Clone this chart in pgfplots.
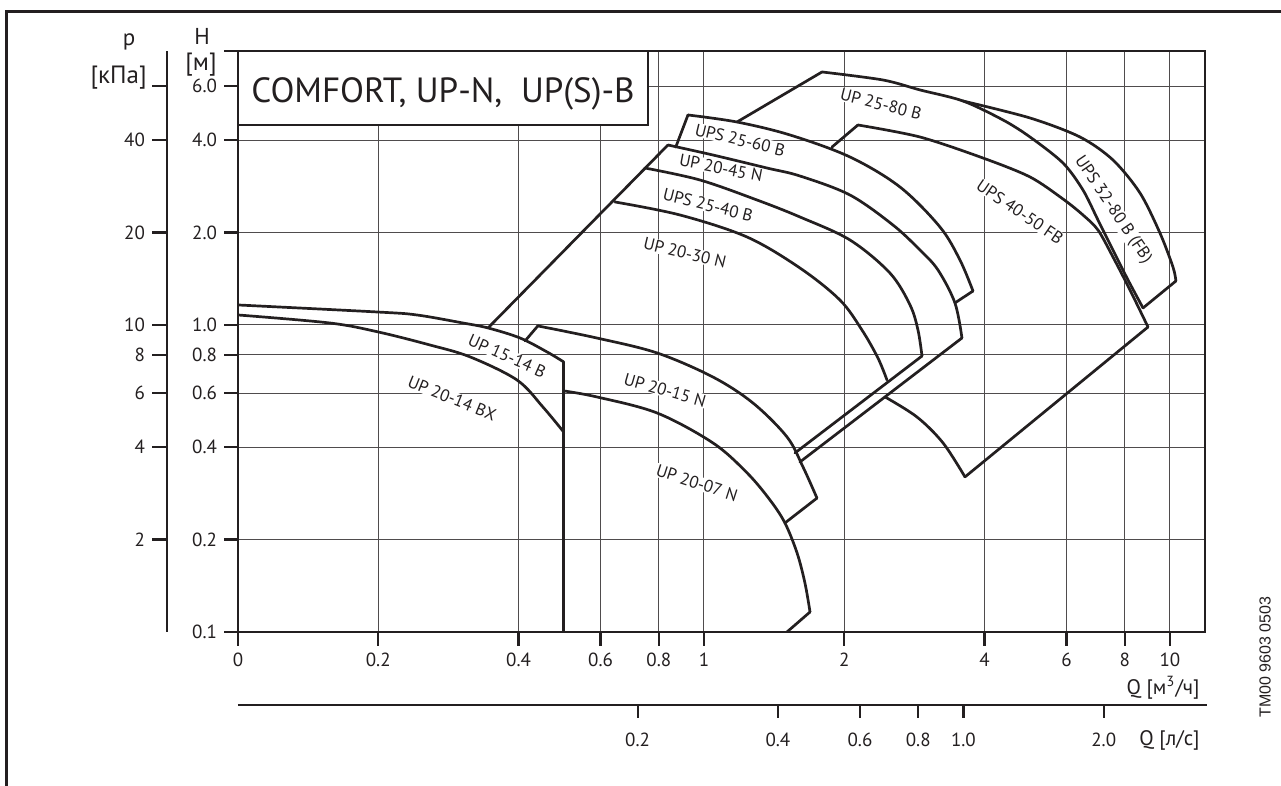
\documentclass[border=0pt]{standalone}
\usepackage{pgfplots}
\pgfplotsset{compat=1.18}
\usepackage{fontspec}
\setmainfont{PT Sans}
\newfontfamily\arialfont{Liberation Sans}
\definecolor{ink}{RGB}{35,31,32}
\newcommand\lab{\fontsize{8.5}{10}\selectfont}
\begin{document}
\begin{tikzpicture}
\useasboundingbox (0,0) rectangle (640.5pt,393pt);
\draw[ink, line width=1.3pt] (3.25pt,0) -- (3.25pt,387.25pt) -- (640.5pt,387.25pt);

% p axis (kPa)
\begin{axis}[at={(83.5pt,77pt)}, anchor=south west, scale only axis,
  width=10pt, height=290.5pt, ymode=log, ymin=1, ymax=78.07, xmin=0, xmax=1,
  axis lines*=left, x axis line style={draw=none}, xtick=\empty,
  ytick={2,4,6,8,10,20,40,60}, yticklabels={2,4,6,8,10,20,40,{}},
  minor ytick={}, tick align=outside, major tick length=7.5pt,
  y axis line style={line width=1.1pt, color=ink},
  tick style={line width=1.1pt, color=ink},
  tick label style={font=\fontsize{9.5}{10}\selectfont, text=ink},
  /pgf/number format/assume math mode=true]
\addplot[draw=none] coordinates {(0.5,2)(0.5,4)};
\end{axis}

% Q l/s axis
\begin{axis}[at={(119pt,40.5pt)}, anchor=south west, scale only axis,
  width=484.5pt, height=10pt, xmode=log, xmin=0.027778, xmax=3.3306, ymin=0, ymax=1,
  axis lines*=left, y axis line style={draw=none}, ytick=\empty,
  xtick={0.2,0.4,0.6,0.8,1,2}, xticklabels={0.2,0.4,0.6,0.8,1.0,2.0},
  minor xtick={}, tick align=outside, major tick length=6.5pt,
  x axis line style={line width=1.1pt, color=ink},
  tick style={line width=1.1pt, color=ink},
  tick label style={font=\fontsize{9.5}{10}\selectfont, text=ink},
  xticklabel style={yshift=-4pt},
  /pgf/number format/assume math mode=true]
\addplot[draw=none] coordinates {(0.2,0.5)(2,0.5)};
\end{axis}

% main axis
\begin{axis}[at={(119pt,77pt)}, anchor=south west, scale only axis,
  width=483.5pt, height=290.5pt,
  xmode=log, ymode=log,
  xmin=0.1, xmax=11.89, ymin=0.1, ymax=7.807,
  xtick={0.1,0.2,0.4,0.6,0.8,1,2,4,6,8,10},
  xticklabels={0,0.2,0.4,0.6,0.8,1,2,4,6,8,10},
  ytick={0.1,0.2,0.4,0.6,0.8,1,2,4,6},
  yticklabels={0.1,0.2,0.4,0.6,0.8,1.0,2.0,4.0,6.0},
  minor xtick={}, minor ytick={},
  xmajorgrids, ymajorgrids,
  grid style={line width=0.5pt, color=ink!80},
  tick align=outside, xtick pos=bottom, ytick pos=left,
  major tick length=7pt,
  axis line style={line width=1.2pt, color=ink},
  tick style={line width=1.2pt, color=ink},
  tick label style={font=\fontsize{9.5}{10}\selectfont, text=ink},
  /pgf/number format/assume math mode=true,
  cycle list={{ink,solid}},
  every axis plot/.append style={ink, solid, line width=1.35pt, line join=round, line cap=round},
  no markers]

% curve labels
\node[rotate=-24, fill=white, inner sep=0.4pt, font=\lab, text=ink] at (axis cs:0.378,0.7925) {UP 15-14 B};
\node[rotate=-22, fill=white, inner sep=0.4pt, font=\lab, text=ink] at (axis cs:0.288,0.578) {UP 20-14 BX};
\node[rotate=-16, fill=white, inner sep=0.4pt, font=\lab, text=ink] at (axis cs:0.825,0.614) {UP 20-15 N};
\node[rotate=-18, fill=white, inner sep=0.4pt, font=\lab, text=ink] at (axis cs:0.966,0.306) {UP 20-07 N};
\node[rotate=-13.5, fill=white, inner sep=0.4pt, font=\lab, text=ink] at (axis cs:1.195,4.006) {UPS 25-60 B};
\node[rotate=-11, fill=white, inner sep=0.4pt, font=\lab, text=ink] at (axis cs:1.088,3.246) {UP 20-45 N};
\node[rotate=-14, fill=white, inner sep=0.4pt, font=\lab, text=ink] at (axis cs:1.020,2.459) {UPS 25-40 B};
\node[rotate=-13.5, fill=white, inner sep=0.4pt, font=\lab, text=ink] at (axis cs:0.910,1.716) {UP 20-30 N};
\node[rotate=-14, fill=white, inner sep=0.4pt, font=\lab, text=ink] at (axis cs:2.398,5.247) {UP 25-80 B};
\node[rotate=-34.5, fill=white, inner sep=0.4pt, font=\lab, text=ink] at (axis cs:4.766,2.334) {UPS 40-50 FB};
\node[rotate=-56, fill=white, inner sep=0.4pt, font=\lab, text=ink] at (axis cs:7.545,2.369) {UPS 32-80 B (FB)};

% UP 15-14 B
\addplot[smooth, tension=0.55] coordinates {(0.1,1.162)(0.2,1.102)(0.242,1.078)(0.304,1.015)(0.344,0.978)(0.403,0.907)(0.4605,0.817)(0.5,0.758)};
\addplot[ink] coordinates {(0.5,0.758)(0.5,0.1)};
% UP 20-14 BX
\addplot[smooth, tension=0.55] coordinates {(0.1,1.078)(0.1575,1.015)(0.2,0.949)(0.258,0.861)(0.315,0.787)(0.397,0.662)(0.451,0.541)(0.5,0.448)};
% UP 20-15 N
\addplot[ink] coordinates {(0.413,0.887)(0.440,0.993)};
\addplot[smooth, tension=0.55] coordinates {(0.440,0.993)(0.589,0.907)(0.793,0.811)(1.045,0.677)(1.274,0.557)(1.507,0.432)(1.631,0.345)(1.748,0.273)};
\addplot[ink] coordinates {(1.748,0.273)(1.492,0.2265)};
% UP 20-07 N
\addplot[smooth, tension=0.55] coordinates {(0.5,0.610)(0.589,0.583)(0.793,0.517)(1.045,0.413)(1.237,0.330)(1.386,0.269)(1.492,0.2265)(1.584,0.181)(1.647,0.1444)(1.689,0.1162)};
\addplot[ink] coordinates {(1.689,0.1162)(1.507,0.1)};
% envelope diagonal
\addplot[ink] coordinates {(0.344,0.978)(0.837,3.858)};
\addplot[ink] coordinates {(0.87,3.80)(0.924,4.831)};
% UPS 25-60 B
\addplot[smooth, tension=0.55] coordinates {(0.924,4.831)(1.177,4.583)(1.530,4.158)(2.057,3.526)(2.634,2.815)(3.209,2.086)(3.543,1.628)(3.779,1.290)};
\addplot[ink] coordinates {(3.779,1.290)(3.456,1.180)};
% UP 20-45 N
\addplot[smooth, tension=0.55] coordinates {(0.837,3.858)(1.045,3.579)(1.365,3.246)(1.607,3.057)(2.057,2.651)(2.544,2.117)(2.907,1.755)(3.178,1.511)(3.456,1.180)(3.578,0.907)};
\addplot[ink] coordinates {(3.578,0.907)(1.607,0.358)};
% UPS 25-40 B
\addplot[smooth, tension=0.55] coordinates {(0.747,3.246)(0.980,2.967)(1.299,2.554)(1.607,2.248)(2.057,1.892)(2.506,1.477)(2.768,1.162)(2.879,0.963)(2.937,0.7925)};
\addplot[ink] coordinates {(2.937,0.7925)(1.568,0.383)};
% UP 20-30 N
\addplot[smooth, tension=0.55] coordinates {(0.644,2.516)(0.888,2.282)(1.237,1.935)(1.607,1.533)(1.958,1.206)(2.183,0.963)(2.362,0.781)(2.470,0.662)};
% lower limit of right group
\addplot[smooth, tension=0.55] coordinates {(2.446,0.583)(2.865,0.5015)(3.258,0.413)(3.632,0.320)};
\addplot[ink] coordinates {(3.632,0.320)(8.972,0.985)};
% UP 25-80 B
\addplot[ink] coordinates {(1.177,4.583)(1.792,6.671)};
\addplot[smooth, tension=0.5] coordinates {(1.792,6.671)(2.422,6.281)(2.907,5.830)(3.596,5.366)(4.382,4.654)(5.008,4.096)(5.894,3.371)(6.506,2.753)(7.007,2.198)(7.545,1.755)(8.128,1.402)(8.753,1.136)};
% UPS 32-80 B (FB)
\addplot[smooth, tension=0.5] coordinates {(3.596,5.366)(5.008,4.724)(6.411,4.096)(7.545,3.448)(8.624,2.692)(9.517,1.994)(10.15,1.545)(10.30,1.391)};
\addplot[ink] coordinates {(10.30,1.391)(8.753,1.136)};
% UPS 40-50 FB
\addplot[ink] coordinates {(1.883,3.800)(2.140,4.482)};
\addplot[smooth, tension=0.5] coordinates {(2.140,4.482)(2.907,4.096)(3.969,3.499)(5.008,3.035)(5.894,2.573)(6.506,2.282)(7.007,2.039)(7.545,1.666)(8.208,1.300)(8.972,0.985)};
\end{axis}

\begin{scope}[x=0.5pt,y=0.5pt]
% top tick of H axis
\draw[ink, line width=1.2pt] (224,735) -- (238,735);
% title box
\draw[ink, line width=1pt, fill=white] (238,735) rectangle (648,661);
\node[anchor=base west, inner sep=0pt, text=ink, font=\fontsize{17.5}{20}\selectfont] at (251,683) {COMFORT, UP-N,\ \ UP(S)-B};
% axis names
\node[anchor=base, inner sep=0pt, text=ink, font=\fontsize{11.5}{12}\selectfont] at (129,740) {p};
\node[anchor=base, inner sep=0pt, text=ink, font=\fontsize{11.5}{12}\selectfont] at (202,741) {H};
\node[anchor=center, inner sep=0pt, text=ink, font=\fontsize{12.5}{13}\selectfont] at (201,721) {[м]};
\node[anchor=east, inner sep=0pt, text=ink, font=\fontsize{12.5}{13}\selectfont] at (147,708) {[кПа]};
\node[anchor=east, inner sep=0pt, text=ink, font=\fontsize{10.5}{12}\selectfont] at (1200,98) {Q [м\textsuperscript{3}/ч]};
\node[anchor=east, inner sep=0pt, text=ink, font=\fontsize{10.5}{12}\selectfont] at (1200,46) {Q [л/с]};
\node[rotate=90, inner sep=0pt, text=ink, font=\arialfont\fontsize{8}{9}\selectfont] at (1265,129) {TM00 9603 0503};
\end{scope}
\end{tikzpicture}
\end{document}
